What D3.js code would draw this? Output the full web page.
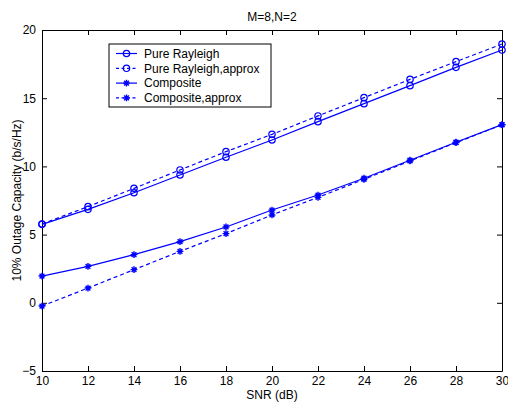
<!DOCTYPE html>
<html>
<head>
<meta charset="utf-8">
<script src="https://cdn.jsdelivr.net/npm/d3@7"></script>
<style>
  body { margin: 0; background: #fff; }
  text { font-family: "Liberation Sans", Arial, sans-serif; font-size: 12px; fill: #000; }
</style>
</head>
<body>
<svg id="chart"></svg>
<script>
var snr = [10, 12, 14, 16, 18, 20, 22, 24, 26, 28, 30];
var pureRayleigh = [5.75, 6.85, 8.07, 9.37, 10.67, 11.94, 13.28, 14.6, 15.92, 17.26, 18.53];
var pureRayleighApprox = [5.78, 7.05, 8.39, 9.74, 11.08, 12.35, 13.7, 15.04, 16.38, 17.68, 18.97];
var composite = [1.96, 2.67, 3.53, 4.48, 5.56, 6.8, 7.9, 9.13, 10.45, 11.77, 13.06];
var compositeApprox = [-0.24, 1.08, 2.43, 3.77, 5.07, 6.44, 7.73, 9.05, 10.4, 11.74, 13.05];
var xTicks = [10, 12, 14, 16, 18, 20, 22, 24, 26, 28, 30];
var yTicks = [-5, 0, 5, 10, 15, 20];
var seriesNames = ["Pure Rayleigh", "Pure Rayleigh,approx", "Composite", "Composite,approx"];

var width = 508,
    height = 402;
var margin = { left: 42, right: 6, top: 30, bottom: 31 };
var blue = "#0000ff";

var svg = d3.select("#chart")
  .attr("width", width)
  .attr("height", height);

var x = d3.scaleLinear()
  .domain([10, 30])
  .range([margin.left, width - margin.right]);

var y = d3.scaleLinear()
  .domain([-5, 20])
  .range([height - margin.bottom, margin.top]);

var series = [
  { name: seriesNames[0], values: pureRayleigh, dash: null, marker: "circle" },
  { name: seriesNames[1], values: pureRayleighApprox, dash: "4,3", marker: "circle" },
  { name: seriesNames[2], values: composite, dash: null, marker: "star" },
  { name: seriesNames[3], values: compositeApprox, dash: "4,3", marker: "star" }
];

// axes (box with inward ticks, like matlab)
var tickLen = 5;
svg.append("g")
    .attr("transform", "translate(0," + y(-5) + ")")
    .call(d3.axisBottom(x).tickValues(xTicks).tickSizeInner(-tickLen).tickSizeOuter(0).tickPadding(5))
    .call(styleAxis);
svg.append("g")
    .attr("transform", "translate(0," + y(20) + ")")
    .call(d3.axisTop(x).tickValues(xTicks).tickSizeInner(-tickLen).tickSizeOuter(0).tickFormat(""))
    .call(styleAxis);
svg.append("g")
    .attr("transform", "translate(" + x(10) + ",0)")
    .call(d3.axisLeft(y).tickValues(yTicks).tickSizeInner(-tickLen).tickSizeOuter(0).tickPadding(6))
    .call(styleAxis);
svg.append("g")
    .attr("transform", "translate(" + x(30) + ",0)")
    .call(d3.axisRight(y).tickValues(yTicks).tickSizeInner(-tickLen).tickSizeOuter(0).tickFormat(""))
    .call(styleAxis);

function styleAxis(g) {
  g.select(".domain").attr("stroke", "#000").attr("stroke-width", 1);
  g.selectAll(".tick line").attr("stroke", "#000");
  g.selectAll(".tick text").style("font-family", "Liberation Sans, Arial, sans-serif").style("font-size", "12px").attr("fill", "#000");
}

// lines
var line = d3.line()
  .x(function(d, i) { return x(snr[i]); })
  .y(function(d) { return y(d); });

var plot = svg.append("g").attr("class", "series");

series.forEach(function(s) {
  plot.append("path")
    .datum(s.values)
    .attr("fill", "none")
    .attr("stroke", blue)
    .attr("stroke-width", 1.2)
    .attr("stroke-dasharray", s.dash)
    .attr("d", line);

  plot.selectAll(null)
    .data(s.values)
    .enter().append("path")
      .attr("transform", function(d, i) { return "translate(" + x(snr[i]) + "," + y(d) + ")"; })
      .call(drawMarker, s.marker);
});

function markerPath(type) {
  if (type === "circle") {
    var r = 3.2;
    return "M" + (-r) + ",0A" + r + "," + r + " 0 1,0 " + r + ",0A" + r + "," + r + " 0 1,0 " + (-r) + ",0";
  }
  var a = 3.4, b = 2.4;
  return "M0," + (-a) + "V" + a + "M" + (-a) + ",0H" + a +
    "M" + (-b) + "," + (-b) + "L" + b + "," + b + "M" + (-b) + "," + b + "L" + b + "," + (-b);
}

function drawMarker(sel, type) {
  sel.attr("d", markerPath(type))
    .attr("fill", "none")
    .attr("stroke", blue)
    .attr("stroke-width", type === "circle" ? 1.2 : 1.4);
}

// title and labels
svg.append("text")
  .attr("x", (x(10) + x(30)) / 2)
  .attr("y", 21)
  .attr("text-anchor", "middle")
  .text("M=8,N=2");

svg.append("text")
  .attr("x", (x(10) + x(30)) / 2)
  .attr("y", 399)
  .attr("text-anchor", "middle")
  .text("SNR (dB)");

svg.append("text")
  .attr("transform", "translate(21," + (y(7.5)) + ") rotate(-90)")
  .attr("text-anchor", "middle")
  .text("10% Outage Capacity (b/s/Hz)");

// legend
var legend = svg.append("g").attr("transform", "translate(109,44)");
legend.append("rect")
  .attr("width", 162)
  .attr("height", 63)
  .attr("fill", "#fff")
  .attr("stroke", "#000")
  .attr("stroke-width", 1);

var items = legend.selectAll("g.item")
  .data(series)
  .enter().append("g")
    .attr("class", "item")
    .attr("transform", function(d, i) { return "translate(0," + (9.5 + i * 14.8) + ")"; });

items.append("line")
  .attr("x1", 7).attr("x2", 28)
  .attr("stroke", blue)
  .attr("stroke-width", 1.2)
  .attr("stroke-dasharray", function(d) { return d.dash ? "3,2.5" : null; });

items.append("path")
  .attr("transform", "translate(17.5,0)")
  .each(function(d) { d3.select(this).call(drawMarker, d.marker); });

items.append("text")
  .attr("x", 35)
  .attr("dy", "0.35em")
  .text(function(d) { return d.name; });
</script>
</body>
</html>
